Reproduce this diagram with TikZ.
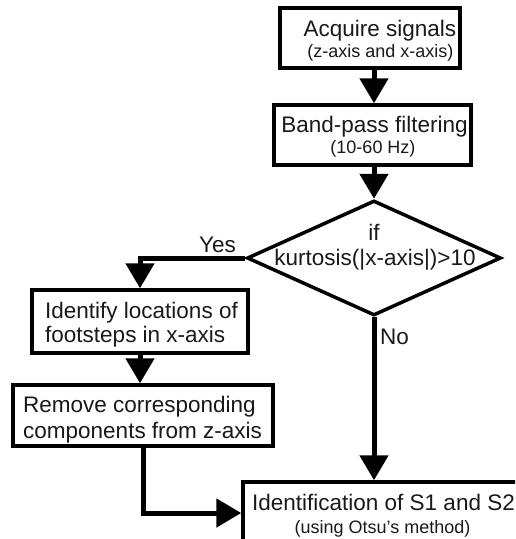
\documentclass[tikz,border=0pt]{standalone}
\usepackage{fontspec}
\setmainfont{Liberation Sans}
\usetikzlibrary{shapes.geometric,arrows.meta}
\newcommand\mainf{\fontsize{22.5}{25}\selectfont}
\newcommand\smallf{\fontsize{18}{21}\selectfont}
\begin{document}
\begin{tikzpicture}[x=1pt,y=-1pt,
  box/.style={draw=black,line width=3.5pt,rectangle,inner sep=0pt},
  conn/.style={line width=5pt,-{Triangle[width=28pt,length=25pt]}},
  txt/.style={font=\mainf,text=black!90,inner sep=0pt,anchor=base},
  txtl/.style={txt,anchor=base west},
  stxt/.style={font=\smallf,text=black!90,inner sep=0pt,anchor=base}]
\useasboundingbox (0,0) rectangle (515,539);
\clip (0,0) rectangle (515,539);
% boxes
\node[box,minimum width=180pt,minimum height=60pt] (b1) at (370,38) {};
\node[box,minimum width=197pt,minimum height=60pt] (b2) at (372.5,135) {};
\node[diamond,draw=black,line width=3.5pt,minimum width=254pt,minimum height=115pt,inner sep=0pt] (d) at (374,258) {};
\node[box,minimum width=216pt,minimum height=63pt] (b3) at (140,321.5) {};
\node[box,minimum width=260pt,minimum height=61pt] (b4) at (143,415.5) {};
\node[box,minimum width=276pt,minimum height=62pt] (b5) at (381,513) {};
% texts
\node[txt] (t1a) at (380,36) {Acquire signals};
\node[stxt] (t1b) at (380.5,57) {(z-axis and x-axis)};
\node[txt] (t2a) at (374.5,132) {Band-pass filtering};
\node[stxt] (t2b) at (373,153) {(10-60 Hz)};
\node[txt] (tda) at (374,240) {if};
\node[txt] (tdb) at (375,265) {kurtosis(|x-axis|)>10};
\node[txtl] (t3a) at (45,318) {Identify locations of};
\node[txtl] (t3b) at (45,342) {footsteps in x-axis};
\node[txtl] (t4a) at (23,412) {Remove corresponding};
\node[txtl] (t4b) at (23,438) {components from z-axis};
\node[txt] (t5a) at (383.5,510) {Identification of S1 and S2};
\node[stxt] (t5b) at (382.5,533) {(using Otsu's method)};
\node[txtl] (yes) at (199,252) {Yes};
\node[txtl] (no) at (380,344) {No};
% connectors
\draw[conn] (b1.south -| d.north) -- (b2.north -| d.north);
\draw[conn] (b2.south -| d.north) -- (d.north);
\draw[conn] (d.west) -| (b3.north);
\draw[conn] (b3.south) -- (b3.south |- b4.north);
\draw[conn] (d.south) -- (d.south |- b5.north);
\draw[conn] (b4.south) |- (b5.west);
\end{tikzpicture}
\end{document}
